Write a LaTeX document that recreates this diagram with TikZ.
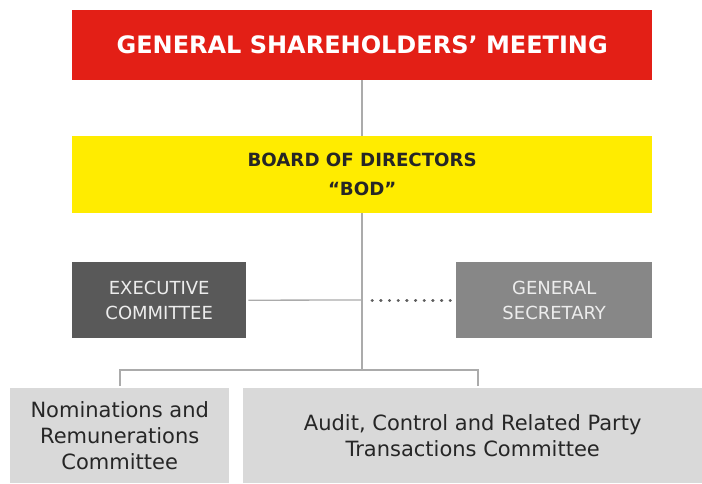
\documentclass[tikz,border=0pt]{standalone}
\usepackage{fontspec}
\setmainfont{DejaVu Sans}
\begin{document}
\begin{tikzpicture}[x=1pt,y=-1pt,
  box/.style={draw=none,inner sep=0pt,anchor=north west,align=center},
  conn/.style={draw=linegray,line width=1.3pt},
  dotconn/.style={draw=dotgray,line width=3pt,line cap=round,dash pattern=on 0.4pt off 8.27pt}]
\definecolor{gsmred}{HTML}{E31F16}
\definecolor{bodyellow}{HTML}{FFEC00}
\definecolor{execgray}{HTML}{595959}
\definecolor{secgray}{HTML}{878787}
\definecolor{compgray}{HTML}{D9D9D9}
\definecolor{linegray}{HTML}{ABABAB}
\definecolor{dotgray}{HTML}{5E5E5E}
\definecolor{txtdark}{HTML}{262626}
\definecolor{txtlight}{HTML}{EDEDED}
\useasboundingbox (0,0) rectangle (702,483);
\node[box,fill=gsmred,minimum width=580pt,minimum height=70pt,text=white,font=\fontsize{24}{28}\selectfont\bfseries] (gsm) at (72,10) {GENERAL SHAREHOLDERS’ MEETING};
\node[box,fill=bodyellow,minimum width=580pt,minimum height=77pt,text=txtdark,font=\fontsize{18.2}{29}\selectfont\bfseries] (bod) at (72,136) {BOARD OF DIRECTORS\\“BOD”};
\node[box,fill=execgray,minimum width=174pt,minimum height=76pt,text=txtlight,font=\fontsize{18}{25}\selectfont] (exec) at (72,262) {EXECUTIVE\\COMMITTEE};
\node[box,fill=secgray,minimum width=196pt,minimum height=76pt,text=txtlight,font=\fontsize{18}{25}\selectfont] (sec) at (456,262) {GENERAL\\SECRETARY};
\node[box,fill=compgray,minimum width=219pt,minimum height=95pt,text=txtdark,font=\fontsize{21}{26}\selectfont] (nom) at (10,388) {Nominations and\\Remunerations\\Committee};
\node[box,fill=compgray,minimum width=459pt,minimum height=95pt,text=txtdark,font=\fontsize{21}{26}\selectfont] (aud) at (243,388) {Audit, Control and Related Party\\Transactions Committee};
\coordinate (hub) at (362,300);
\coordinate (split) at (362,370);
\coordinate (nomtop) at (120,386);
\coordinate (audtop) at (478,386);
\coordinate (dotstart) at (372,300);
\coordinate (dotend) at (451,300);
\draw[conn] (gsm.south -| hub) -- (bod.north -| hub);
\draw[conn] (bod.south -| hub) -- (split);
\draw[conn] ([xshift=2pt]exec.east) -- (hub);
\draw[dotconn] (dotstart) -- (dotend);
\draw[conn] (nomtop) -- (nomtop |- split) -- (audtop |- split) -- (audtop);
\end{tikzpicture}
\end{document}
